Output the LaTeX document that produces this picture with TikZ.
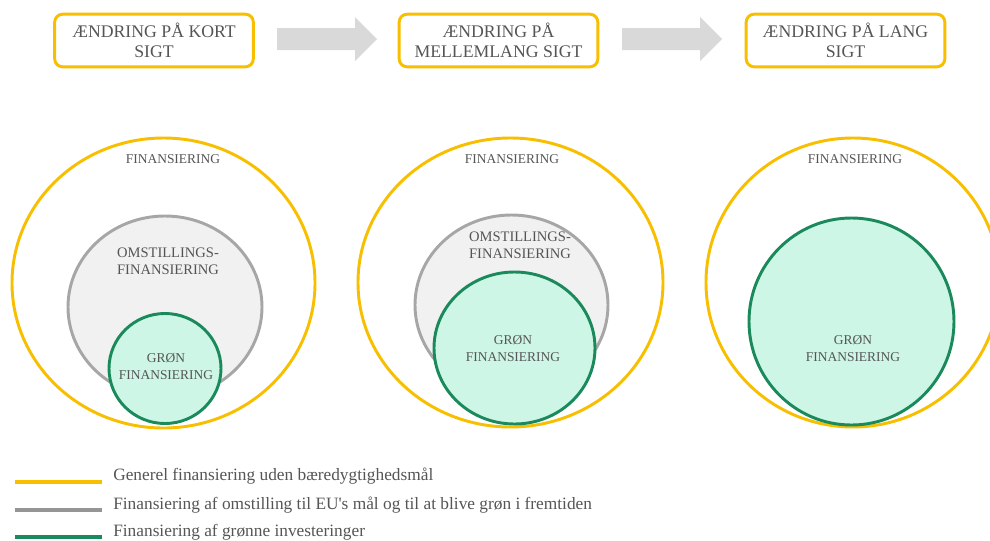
\documentclass[tikz,border=0pt]{standalone}
\usepackage{fontspec}
\setmainfont{Liberation Serif}
\usetikzlibrary{shapes.geometric}
\definecolor{ygold}{HTML}{F7BF00}
\definecolor{gline}{HTML}{A6A6A6}
\definecolor{gfill}{HTML}{F1F1F1}
\definecolor{grline}{HTML}{1A8A5C}
\definecolor{grfill}{HTML}{CDF6E6}
\definecolor{txt}{HTML}{555555}
\definecolor{arr}{HTML}{D9D9D9}
\begin{document}
\begin{tikzpicture}[x=0.75pt,y=-0.75pt,
  stagebox/.style={draw=ygold, line width=2.2pt, rounded corners=6pt,
    minimum width=149pt, minimum height=39.5pt, align=center, text=txt,
    inner sep=0pt, font=\fontsize{13.3}{15}\selectfont},
  lbl/.style={text=txt, align=center, inner sep=0pt, font=\fontsize{10.1}{12.75}\selectfont},
  lblbig/.style={lbl, font=\fontsize{10.9}{12.75}\selectfont},
  outerring/.style={draw=ygold, line width=2.2pt},
  omring/.style={draw=gline, fill=gfill, line width=2.2pt},
  greenring/.style={draw=grline, fill=grfill, line width=2.2pt},
  blockarrow/.style={fill=arr},
  legline/.style={line width=2.4pt},
  legtxt/.style={anchor=west, text=txt, inner sep=0pt, font=\fontsize{13}{15}\selectfont}
]
\useasboundingbox (0,0) rectangle (990,540);

% stage boxes
\node[stagebox] (b1) at (154,40.5) {ÆNDRING PÅ KORT\\SIGT};
\node[stagebox] (b2) at (498.5,40.5) {ÆNDRING PÅ\\MELLEMLANG SIGT};
\node[stagebox] (b3) at (845.5,40.5) {ÆNDRING PÅ LANG\\SIGT};

% block arrows
\fill[blockarrow] (277,28) -- (355,28) -- (355,17) -- (377,39) -- (355,61) -- (355,50) -- (277,50) -- cycle;
\fill[blockarrow] (622,28) -- (700,28) -- (700,17) -- (722,39) -- (700,61) -- (700,50) -- (622,50) -- cycle;

% column 1
\coordinate (c1) at (163.5,283);
\draw[outerring] (c1) ellipse [x radius=151.5, y radius=145];
\coordinate (g1) at (165,307);
\draw[omring] (g1) ellipse [x radius=97, y radius=91];
\coordinate (n1) at (165,368.5);
\draw[greenring] (n1) ellipse [x radius=56, y radius=55];
\node[lbl] (f1) at (173,159) {FINANSIERING};
\node[lblbig] (o1) at (168,261.5) {OMSTILLINGS-\\FINANSIERING};
\node[lbl] (r1) at (166,366.5) {GRØN\\FINANSIERING};

% column 2
\coordinate (c2) at (510.5,282.5);
\draw[outerring] (c2) ellipse [x radius=152.5, y radius=144.5];
\coordinate (g2) at (511.5,305);
\draw[omring] (g2) ellipse [x radius=96.5, y radius=90];
\coordinate (n2) at (514.5,348);
\draw[greenring] (n2) ellipse [x radius=80.5, y radius=76];
\node[lbl] (f2) at (512,159) {FINANSIERING};
\node[lblbig] (o2) at (520,245.5) {OMSTILLINGS-\\FINANSIERING};
\node[lbl] (r2) at (513,348.5) {GRØN\\FINANSIERING};

% column 3
\coordinate (c3) at (853,282.5);
\draw[outerring] (c3) ellipse [x radius=147, y radius=144.5];
\coordinate (n3) at (851.5,321.5);
\draw[greenring] (n3) ellipse [x radius=102.5, y radius=103.5];
\node[lbl] (f3) at (855,159) {FINANSIERING};
\node[lbl] (r3) at (853,348.5) {GRØN\\FINANSIERING};

% legend
\coordinate (l1a) at (15,482); \coordinate (l1b) at (102,482);
\coordinate (l2a) at (15,510); \coordinate (l2b) at (102,510);
\coordinate (l3a) at (15,537); \coordinate (l3b) at (102,537);
\draw[legline, ygold] (l1a) -- (l1b);
\draw[legline, gline!90!black] (l2a) -- (l2b);
\draw[legline, grline] (l3a) -- (l3b);
\node[legtxt] (t1) at (113,476) {Generel finansiering uden bæredygtighedsmål};
\node[legtxt] (t2) at (113,505) {Finansiering af omstilling til EU\textquotesingle s mål og til at blive grøn i fremtiden};
\node[legtxt] (t3) at (113,532) {Finansiering af grønne investeringer};
\end{tikzpicture}
\end{document}
